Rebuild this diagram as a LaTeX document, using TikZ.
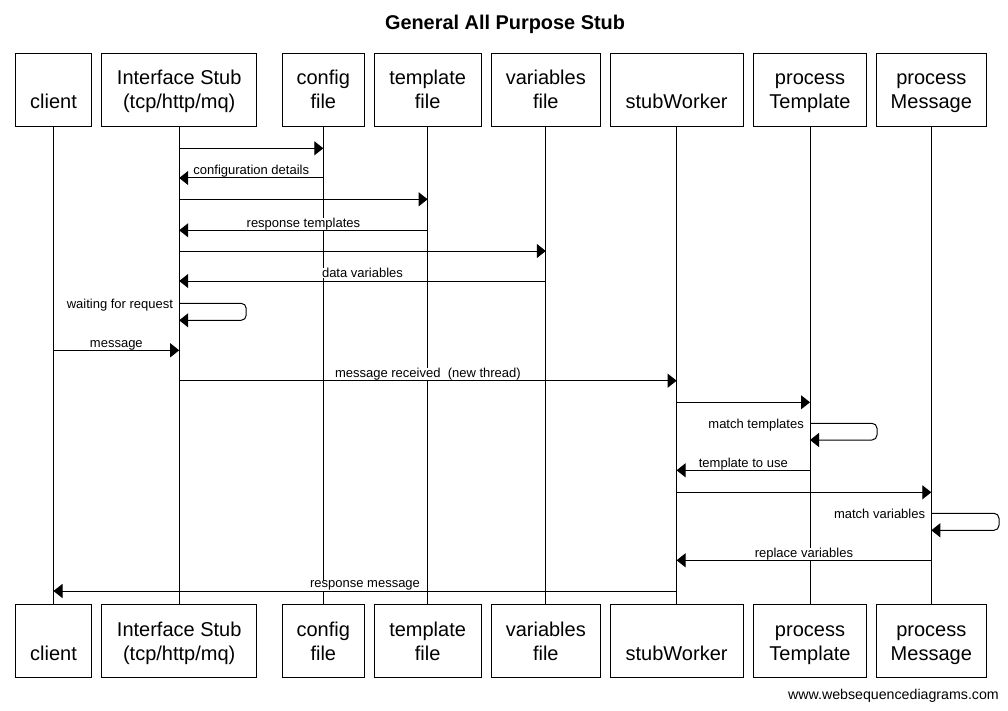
\documentclass[tikz,border=0pt]{standalone}
\usepackage{fontspec}
\setmainfont{Liberation Sans}
\usetikzlibrary{arrows.meta}
\newcommand\bxs{\rule[-5pt]{0pt}{24pt}}
\begin{document}
\begin{tikzpicture}[x=1pt,y=-1pt,
  actor/.style={draw, line width=1pt, minimum height=73pt, inner sep=0pt, align=center, font=\fontsize{20}{24}\selectfont},
  life/.style={line width=1pt},
  msg/.style={line width=1pt, -{Triangle[length=9pt,width=14pt]}},
  selfmsg/.style={msg, rounded corners=5pt},
  lbl/.style={font=\fontsize{13}{15}\selectfont, fill=white, inner sep=0pt, anchor=base, yshift=3.2pt, behind path},
  slbl/.style={font=\fontsize{13}{15}\selectfont, fill=white, inner sep=0pt, anchor=base east, xshift=-6pt, yshift=-5pt}
]
\fill[white] (0,0) rectangle (1008,711);
\useasboundingbox (0,0) rectangle (1008,711);

\node[font=\bfseries\fontsize{19.9}{23}\selectfont, anchor=base, inner sep=0pt] (title) at (505,29.3) {General All Purpose Stub};

% top actors
\node[actor, minimum width=76pt]  (cT)   at (53.5,90)  {\bxs\\\bxs client};
\node[actor, minimum width=155pt] (isT)  at (179.2,90) {\bxs Interface Stub\\\bxs (tcp/http/mq)};
\node[actor, minimum width=82pt]  (cfgT) at (323.3,90) {\bxs config\\\bxs file};
\node[actor, minimum width=107pt] (tplT) at (427.6,90) {\bxs template\\\bxs file};
\node[actor, minimum width=109pt] (varT) at (545.8,90) {\bxs variables\\\bxs file};
\node[actor, minimum width=133pt] (swT)  at (676.6,90) {\bxs\\\bxs stubWorker};
\node[actor, minimum width=113pt] (ptT)  at (810,90)   {\bxs process\\\bxs Template};
\node[actor, minimum width=110pt] (pmT)  at (931.3,90) {\bxs process\\\bxs Message};

% bottom actors
\node[actor, minimum width=76pt]  (cB)   at (53.5,641)  {\bxs\\\bxs client};
\node[actor, minimum width=155pt] (isB)  at (179.2,641) {\bxs Interface Stub\\\bxs (tcp/http/mq)};
\node[actor, minimum width=82pt]  (cfgB) at (323.3,641) {\bxs config\\\bxs file};
\node[actor, minimum width=107pt] (tplB) at (427.6,641) {\bxs template\\\bxs file};
\node[actor, minimum width=109pt] (varB) at (545.8,641) {\bxs variables\\\bxs file};
\node[actor, minimum width=133pt] (swB)  at (676.6,641) {\bxs\\\bxs stubWorker};
\node[actor, minimum width=113pt] (ptB)  at (810,641)   {\bxs process\\\bxs Template};
\node[actor, minimum width=110pt] (pmB)  at (931.3,641) {\bxs process\\\bxs Message};

% lifelines
\draw[life] (cT) -- (cB);
\draw[life] (isT) -- (isB);
\draw[life] (cfgT) -- (cfgB);
\draw[life] (tplT) -- (tplB);
\draw[life] (varT) -- (varB);
\draw[life] (swT) -- (swB);
\draw[life] (ptT) -- (ptB);
\draw[life] (pmT) -- (pmB);

% message rows
\coordinate (m1) at (0,148.3);
\coordinate (m2) at (0,178);
\coordinate (m3) at (0,199.3);
\coordinate (m4) at (0,230.3);
\coordinate (m5) at (0,251);
\coordinate (m6) at (0,281);
\coordinate (m7) at (0,303.3);
\coordinate (m7b) at (0,320.3);
\coordinate (m8) at (0,350.3);
\coordinate (m9) at (0,380.7);
\coordinate (m10) at (0,402.3);
\coordinate (m11) at (0,423.3);
\coordinate (m11b) at (0,440);
\coordinate (m12) at (0,470.3);
\coordinate (m13) at (0,492.3);
\coordinate (m14) at (0,513.3);
\coordinate (m14b) at (0,530.3);
\coordinate (m15) at (0,560.3);
\coordinate (m16) at (0,591);

\draw[msg] (isT |- m1) -- (cfgT |- m1);
\draw[msg] (cfgT |- m2) -- node[lbl] {configuration details} (isT |- m2);
\draw[msg] (isT |- m3) -- (tplT |- m3);
\draw[msg] (tplT |- m4) -- node[lbl] {response templates} (isT |- m4);
\draw[msg] (isT |- m5) -- (varT |- m5);
\draw[msg] (varT |- m6) -- node[lbl] {data variables} (isT |- m6);
\node[slbl] (l7) at (isT |- m7) {waiting for request};
\draw[selfmsg] (isT |- m7) -- ++(67,0) |- (isT |- m7b);
\draw[msg] (cT |- m8) -- node[lbl] {message} (isT |- m8);
\draw[msg] (isT |- m9) -- node[lbl] {message received~ (new thread)} (swT |- m9);
\draw[msg] (swT |- m10) -- (ptT |- m10);
\node[slbl] (l11) at (ptT |- m11) {match templates};
\draw[selfmsg] (ptT |- m11) -- ++(67,0) |- (ptT |- m11b);
\draw[msg] (ptT |- m12) -- node[lbl] {template to use} (swT |- m12);
\draw[msg] (swT |- m13) -- (pmT |- m13);
\node[slbl] (l14) at (pmT |- m14) {match variables};
\draw[selfmsg] (pmT |- m14) -- ++(67.7,0) |- (pmT |- m14b);
\draw[msg] (pmT |- m15) -- node[lbl] {replace variables} (swT |- m15);
\draw[msg] (swT |- m16) -- node[lbl] {response message} (cT |- m16);

\node[font=\fontsize{14.2}{16}\selectfont, anchor=base east, inner sep=0pt] (foot) at (999,699.5) {www.websequencediagrams.com};
\end{tikzpicture}
\end{document}
